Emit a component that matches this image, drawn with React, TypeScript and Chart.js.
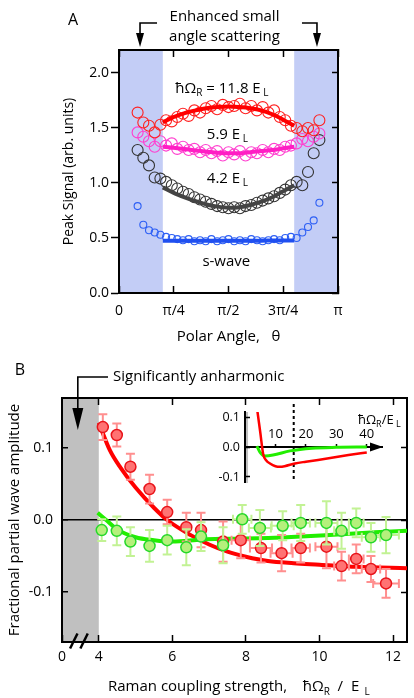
import React, { useEffect, useRef } from 'react';
import { Chart, registerables } from 'chart.js';

Chart.register(...registerables);

const FONT = "'Open Sans', 'DejaVu Sans', sans-serif";
Chart.defaults.font.family = FONT;
Chart.defaults.color = '#000';

// ---------- Panel A: peak signal vs polar angle (angle in units of π) ----------
const polarAngle = [0.085, 0.111, 0.137, 0.163, 0.189, 0.215, 0.241, 0.266, 0.292, 0.318, 0.344, 0.370, 0.396, 0.422, 0.448, 0.474, 0.500, 0.526, 0.552, 0.578, 0.604, 0.630, 0.656, 0.682, 0.708, 0.734, 0.759, 0.785, 0.811, 0.837, 0.863, 0.889, 0.915];
const signal118 = [1.64, 1.55, 1.52, 1.46, 1.53, 1.57, 1.56, 1.60, 1.63, 1.61, 1.66, 1.64, 1.68, 1.70, 1.67, 1.71, 1.69, 1.70, 1.72, 1.68, 1.70, 1.66, 1.69, 1.64, 1.66, 1.60, 1.57, 1.52, 1.50, 1.47, 1.50, 1.48, 1.57];
const signal59 = [1.46, 1.42, 1.38, 1.33, 1.38, 1.34, 1.36, 1.31, 1.33, 1.30, 1.31, 1.28, 1.30, 1.27, 1.29, 1.25, 1.28, 1.26, 1.29, 1.25, 1.28, 1.27, 1.30, 1.28, 1.31, 1.30, 1.33, 1.34, 1.36, 1.40, 1.38, 1.42, 1.45];
const signal42 = [1.30, 1.23, 1.16, 1.05, 1.04, 1.01, 0.98, 0.95, 0.92, 0.90, 0.87, 0.85, 0.83, 0.81, 0.79, 0.78, 0.77, 0.78, 0.77, 0.79, 0.80, 0.82, 0.84, 0.86, 0.88, 0.91, 0.94, 0.98, 1.01, 0.98, 1.10, 1.27, 1.39];
const signalSWave = [0.79, 0.62, 0.57, 0.55, 0.53, 0.51, 0.50, 0.49, 0.48, 0.49, 0.47, 0.48, 0.47, 0.49, 0.47, 0.48, 0.49, 0.47, 0.48, 0.47, 0.49, 0.48, 0.47, 0.48, 0.49, 0.48, 0.50, 0.51, 0.50, 0.55, 0.60, 0.66, 0.82];

const fitAngle = [0.2, 0.25, 0.3, 0.35, 0.4, 0.45, 0.5, 0.55, 0.6, 0.65, 0.7, 0.75, 0.8];
const fit118 = [1.55, 1.60, 1.635, 1.66, 1.68, 1.69, 1.695, 1.69, 1.68, 1.66, 1.625, 1.575, 1.52];
const fit59 = [1.33, 1.32, 1.31, 1.295, 1.285, 1.275, 1.27, 1.27, 1.28, 1.29, 1.30, 1.315, 1.33];
const fit42 = [0.96, 0.91, 0.87, 0.835, 0.805, 0.785, 0.775, 0.78, 0.80, 0.83, 0.87, 0.925, 0.98];
const fitSWave = [0.475, 0.474, 0.474, 0.475, 0.475, 0.475, 0.475, 0.475, 0.476, 0.476, 0.477, 0.477, 0.478];

const angleTicks = [0, 0.25, 0.5, 0.75, 1];
const angleTickLabels = ['0', 'π/4', 'π/2', '3π/4', 'π'];
const signalTicks = [0, 0.5, 1.0, 1.5, 2.0];
const smallAngleBands = [[0, 0.2], [0.8, 1]];

// ---------- Panel B: fractional partial wave amplitude vs Raman coupling ----------
const ramanRed = [4.11, 4.49, 4.86, 5.38, 5.86, 6.38, 6.78, 7.38, 7.86, 8.41, 8.97, 9.49, 10.19, 10.6, 11.0, 11.4, 11.81];
const ampRed = [0.129, 0.118, 0.074, 0.043, 0.011, -0.010, -0.014, -0.030, -0.028, -0.039, -0.046, -0.039, -0.037, -0.064, -0.054, -0.068, -0.088];
const errRed = [0.018, 0.016, 0.018, 0.020, 0.017, 0.020, 0.024, 0.028, 0.025, 0.020, 0.025, 0.020, 0.030, 0.020, 0.020, 0.018, 0.020];
const xErrRed = [0.03, 0.03, 0.05, 0.05, 0.05, 0.15, 0.15, 0.10, 0.25, 0.30, 0.30, 0.25, 0.30, 0.20, 0.20, 0.25, 0.35];

const ramanGreen = [4.08, 4.49, 4.86, 5.38, 5.86, 6.38, 6.78, 7.38, 7.90, 8.38, 9.00, 9.49, 10.19, 10.6, 11.0, 11.4, 11.81];
const ampGreen = [-0.014, -0.015, -0.030, -0.036, -0.028, -0.038, -0.023, -0.035, 0.001, -0.011, -0.008, -0.004, -0.004, -0.015, -0.004, -0.024, -0.021];
const errGreen = [0.015, 0.020, 0.020, 0.022, 0.020, 0.025, 0.020, 0.025, 0.020, 0.025, 0.020, 0.025, 0.030, 0.025, 0.020, 0.020, 0.025];
const xErrGreen = [0.03, 0.03, 0.05, 0.05, 0.05, 0.15, 0.15, 0.10, 0.25, 0.30, 0.30, 0.25, 0.30, 0.20, 0.20, 0.25, 0.35];

const redFitX = [4.0, 4.3, 4.6, 5.0, 5.5, 5.86, 6.5, 7.0, 7.5, 8.0, 8.6, 9.3, 10.0, 11.0, 12.4];
const redFitY = [0.135, 0.097, 0.072, 0.045, 0.017, 0.0, -0.021, -0.034, -0.044, -0.051, -0.057, -0.060, -0.062, -0.065, -0.067];
const greenFitX = [3.97, 4.2, 4.5, 5.0, 5.5, 6.0, 6.8, 7.5, 8.6, 9.5, 10.5, 11.5, 12.4];
const greenFitY = [0.010, 0.000, -0.013, -0.024, -0.028, -0.030, -0.027, -0.026, -0.025, -0.023, -0.020, -0.017, -0.015];

const ramanTicks = [3, 4, 6, 8, 10, 12];
const ramanTickLabels = ['0', '4', '6', '8', '10', '12'];
const ramanTopTicks = [4, 6, 8, 10, 12];
const ampTicks = [-0.1, 0, 0.1];
const anharmonicBand = [3, 4];

// ---------- Inset: calculated amplitudes over a wider coupling range ----------
const insetRedX = [4, 5, 6, 7, 8.2, 10, 11.5, 13, 16.4, 20, 28, 34, 40];
const insetRedY = [0.125, 0.05, -0.025, -0.045, -0.055, -0.064, -0.066, -0.064, -0.055, -0.049, -0.037, -0.027, -0.018];
const insetGreenX = [3.9, 4.9, 6.6, 9.2, 14.8, 22, 30, 40];
const insetGreenY = [0.003, -0.017, -0.030, -0.027, -0.013, -0.004, -0.001, 0.0];
const insetTicks = [10, 20, 30, 40];
const insetMarker = 16;

type Seg = { t: string; sub?: boolean };

function drawRich(ctx: CanvasRenderingContext2D, segs: Seg[], x: number, y: number, size: number, align: 'left' | 'center' = 'center') {
  const subSize = Math.round(size * 0.66);
  const widths = segs.map((s) => {
    ctx.font = `${s.sub ? subSize : size}px ${FONT}`;
    return ctx.measureText(s.t).width;
  });
  const total = widths.reduce((a, b) => a + b, 0);
  let cx = align === 'center' ? x - total / 2 : x;
  ctx.textAlign = 'left';
  ctx.textBaseline = 'middle';
  segs.forEach((s, i) => {
    ctx.font = `${s.sub ? subSize : size}px ${FONT}`;
    ctx.fillText(s.t, cx, s.sub ? y + size * 0.32 : y);
    cx += widths[i];
  });
}

function elbowArrow(ctx: CanvasRenderingContext2D, xStart: number, xCorner: number, yLine: number, yTip: number, headLen: number, headHalf: number) {
  ctx.beginPath();
  ctx.moveTo(xStart, yLine);
  ctx.lineTo(xCorner, yLine);
  ctx.lineTo(xCorner, yTip - headLen + 1);
  ctx.stroke();
  ctx.beginPath();
  ctx.moveTo(xCorner - headHalf, yTip - headLen);
  ctx.lineTo(xCorner + headHalf, yTip - headLen);
  ctx.lineTo(xCorner, yTip);
  ctx.closePath();
  ctx.fill();
}

const fixSize = (dim: 'width' | 'height', v: number) => (s: any) => {
  s[dim] = v;
  s.paddingLeft = s.paddingRight = s.paddingTop = s.paddingBottom = 0;
};
const setTicks = (values: number[]) => (s: any) => {
  s.ticks = values.map((v) => ({ value: v }));
};
const axisFont = (size: number) => ({ family: FONT, size });
const frame = { color: '#000', width: 2 };
const inward = (len: number) => ({ drawOnChartArea: false, tickLength: -len, tickColor: '#000', tickWidth: 1.5 });

const BAND_BLUE = '#c3cdf6';
const BAND_GREY = '#c0c0c0';

const panelAPlugin = {
  id: 'panelAAnnotations',
  beforeDraw(chart: any) {
    const { ctx, chartArea: a, scales: { x } } = chart;
    ctx.save();
    ctx.fillStyle = BAND_BLUE;
    smallAngleBands.forEach(([lo, hi]) => {
      const x0 = x.getPixelForValue(lo);
      const x1 = x.getPixelForValue(hi);
      ctx.fillRect(x0, a.top, x1 - x0, a.bottom - a.top);
    });
    ctx.restore();
  },
  afterDraw(chart: any) {
    const { ctx, chartArea: a, scales: { x, y } } = chart;
    ctx.save();
    ctx.fillStyle = '#000';
    ctx.strokeStyle = '#000';
    drawRich(ctx, [{ t: 'A' }], a.left - 46, a.top - 30, 16);
    const cx = (a.left + a.right) / 2 - 4;
    drawRich(ctx, [{ t: 'Enhanced small' }], cx, a.top - 33, 15);
    drawRich(ctx, [{ t: 'angle scattering' }], cx, a.top - 13, 15);
    ctx.lineWidth = 1.6;
    const lx = x.getPixelForValue(0.096);
    const rx = x.getPixelForValue(0.904);
    elbowArrow(ctx, lx + 17, lx, a.top - 27, a.top - 3, 14, 4);
    elbowArrow(ctx, rx - 15, rx, a.top - 27, a.top - 3, 14, 4);

    drawRich(ctx, [{ t: 'ħΩ' }, { t: 'R', sub: true }, { t: ' = 11.8 E' }, { t: ' L', sub: true }], x.getPixelForValue(0.47), y.getPixelForValue(1.86), 15);
    drawRich(ctx, [{ t: '5.9 E' }, { t: ' L', sub: true }], x.getPixelForValue(0.495), y.getPixelForValue(1.44), 15);
    drawRich(ctx, [{ t: '4.2 E' }, { t: ' L', sub: true }], x.getPixelForValue(0.495), y.getPixelForValue(1.04), 15);
    drawRich(ctx, [{ t: 's-wave' }], x.getPixelForValue(0.49), y.getPixelForValue(0.28), 15);
    ctx.restore();
  },
};

function configA(): any {
  const pts = (data: number[], color: string, r: number) => ({
    data: polarAngle.map((t, i) => ({ x: t, y: data[i] })),
    showLine: false,
    pointRadius: r,
    pointBorderWidth: 1.1,
    pointBorderColor: color,
    pointBackgroundColor: 'rgba(0,0,0,0)',
    order: 2,
  });
  const fit = (data: number[], color: string) => ({
    data: fitAngle.map((t, i) => ({ x: t, y: data[i] })),
    showLine: true,
    borderColor: color,
    borderWidth: 4,
    pointRadius: 0,
    cubicInterpolationMode: 'monotone',
    order: 1,
  });
  return {
    type: 'scatter',
    data: {
      datasets: [
        fit(fit118, '#ff0000'),
        fit(fit59, '#ff1ec4'),
        fit(fit42, '#444444'),
        fit(fitSWave, '#1f4ff0'),
        pts(signal118, '#ff2020', 5.5),
        pts(signal59, '#ff3fcf', 5.5),
        pts(signal42, '#333333', 5.5),
        pts(signalSWave, '#2d5ff5', 3.5),
      ],
    },
    options: {
      animation: false,
      responsive: false,
      events: [],
      layout: { padding: { top: 50, right: 76, bottom: 0, left: 0 } },
      plugins: { legend: { display: false }, tooltip: { enabled: false } },
      scales: {
        x: {
          type: 'linear', position: 'bottom', min: 0, max: 1,
          afterBuildTicks: setTicks(angleTicks), afterFit: fixSize('height', 57),
          ticks: { autoSkip: false, maxRotation: 0, padding: 16.6, font: axisFont(14), color: '#000', callback: (_v: any, i: number) => angleTickLabels[i] },
          grid: inward(7), border: frame,
          title: { display: true, text: 'Polar Angle,   θ', font: axisFont(15), color: '#000', padding: { top: 0, bottom: 4 } },
        },
        xTop: {
          type: 'linear', position: 'top', min: 0, max: 1,
          afterBuildTicks: setTicks(angleTicks), afterFit: fixSize('height', 0),
          ticks: { display: false }, grid: inward(7), border: frame,
        },
        y: {
          type: 'linear', position: 'left', min: 0, max: 2.209,
          afterBuildTicks: setTicks(signalTicks), afterFit: fixSize('width', 119),
          ticks: { padding: 2, font: axisFont(14), color: '#000', callback: (v: any) => Number(v).toFixed(1) },
          grid: { drawOnChartArea: false, tickLength: 8, tickColor: '#000', tickWidth: 1.5 }, border: frame,
          title: { display: true, text: 'Peak Signal (arb. units)', font: axisFont(14), color: '#000', padding: { top: 60.6, bottom: 0 } },
        },
        yRight: {
          type: 'linear', position: 'right', min: 0, max: 2.209,
          afterBuildTicks: setTicks(signalTicks), afterFit: fixSize('width', 0),
          ticks: { display: false }, grid: inward(6), border: frame,
        },
      },
    },
    plugins: [panelAPlugin],
  };
}

const panelBPlugin = {
  id: 'panelBAnnotations',
  beforeDraw(chart: any) {
    const { ctx, chartArea: a, scales: { x } } = chart;
    const x0 = x.getPixelForValue(anharmonicBand[0]);
    const x1 = x.getPixelForValue(anharmonicBand[1]);
    ctx.save();
    ctx.fillStyle = BAND_GREY;
    ctx.fillRect(x0, a.top, x1 - x0, a.bottom - a.top);
    ctx.restore();
  },
  beforeDatasetDraw(chart: any, args: any) {
    const ds: any = chart.data.datasets[args.index];
    if (!ds.errY) return;
    const { ctx, scales: { x, y } } = chart;
    ctx.save();
    ctx.strokeStyle = ds.errColor;
    ctx.lineWidth = 2;
    const cap = 4.5;
    ds.data.forEach((p: any, i: number) => {
      const px = x.getPixelForValue(p.x);
      const py = y.getPixelForValue(p.y);
      const yTop = y.getPixelForValue(p.y + ds.errY[i]);
      const yBot = y.getPixelForValue(p.y - ds.errY[i]);
      const xl = x.getPixelForValue(p.x - ds.errX[i]);
      const xr = x.getPixelForValue(p.x + ds.errX[i]);
      ctx.beginPath();
      ctx.moveTo(px, yTop); ctx.lineTo(px, yBot);
      ctx.moveTo(px - cap, yTop); ctx.lineTo(px + cap, yTop);
      ctx.moveTo(px - cap, yBot); ctx.lineTo(px + cap, yBot);
      if (xr - xl > 12) {
        ctx.moveTo(xl, py); ctx.lineTo(xr, py);
        ctx.moveTo(xl, py - cap); ctx.lineTo(xl, py + cap);
        ctx.moveTo(xr, py - cap); ctx.lineTo(xr, py + cap);
      }
      ctx.stroke();
    });
    ctx.restore();
  },
  afterDraw(chart: any) {
    const { ctx, chartArea: a, scales: { x } } = chart;
    ctx.save();
    ctx.fillStyle = '#000';
    ctx.strokeStyle = '#000';
    drawRich(ctx, [{ t: 'B' }], a.left - 42, a.top - 28, 16);
    drawRich(ctx, [{ t: 'Significantly anharmonic' }], a.left + 51, a.top - 21, 15, 'left');
    ctx.lineWidth = 1.6;
    elbowArrow(ctx, a.left + 46, x.getPixelForValue(3.43), a.top - 21, a.top + 32, 22, 5.5);

    // axis break marks
    ctx.lineWidth = 2.5;
    [3.32, 3.6].forEach((v) => {
      const bx = x.getPixelForValue(v);
      ctx.beginPath();
      ctx.moveTo(bx - 3.7, a.bottom + 6.5);
      ctx.lineTo(bx + 3.7, a.bottom - 8.5);
      ctx.stroke();
    });

    drawRich(
      ctx,
      [{ t: 'Raman coupling strength,    ħΩ' }, { t: 'R', sub: true }, { t: '  /  E' }, { t: '  L', sub: true }],
      a.left + 46, a.bottom + 45, 15, 'left',
    );
    ctx.restore();
  },
};

function configB(): any {
  const fitLine = (xs: number[], ys: number[], color: string, order: number) => ({
    data: xs.map((v, i) => ({ x: v, y: ys[i] })),
    showLine: true,
    borderColor: color,
    borderWidth: 4,
    pointRadius: 0,
    cubicInterpolationMode: 'monotone',
    order,
  });
  const points = (xs: number[], ys: number[], ey: number[], ex: number[], fill: string, edge: string, errColor: string, order: number) => ({
    data: xs.map((v, i) => ({ x: v, y: ys[i] })),
    showLine: false,
    pointRadius: 5.5,
    pointBorderWidth: 1.5,
    pointBackgroundColor: fill,
    pointBorderColor: edge,
    errY: ey,
    errX: ex,
    errColor,
    order,
  });
  return {
    type: 'scatter',
    data: {
      datasets: [
        fitLine(redFitX, redFitY, '#ff0000', 4),
        fitLine(greenFitX, greenFitY, '#22ee00', 3),
        points(ramanRed, ampRed, errRed, xErrRed, '#ff7373', '#e8141a', '#ff8f8f', 2),
        points(ramanGreen, ampGreen, errGreen, xErrGreen, '#b5f07c', '#25d82a', '#c2f294', 1),
      ],
    },
    options: {
      animation: false,
      responsive: false,
      events: [],
      layout: { padding: { top: 48, right: 5, bottom: 0, left: 0 } },
      plugins: { legend: { display: false }, tooltip: { enabled: false } },
      scales: {
        x: {
          type: 'linear', position: 'bottom', min: 3, max: 12.38,
          afterBuildTicks: setTicks(ramanTicks), afterFit: fixSize('height', 56),
          ticks: { autoSkip: false, maxRotation: 0, padding: 13.6, font: axisFont(14), color: '#000', callback: (_v: any, i: number) => ramanTickLabels[i] },
          grid: inward(7), border: frame,
        },
        xTop: {
          type: 'linear', position: 'top', min: 3, max: 12.38,
          afterBuildTicks: setTicks(ramanTopTicks), afterFit: fixSize('height', 0),
          ticks: { display: false }, grid: inward(7), border: frame,
        },
        y: {
          type: 'linear', position: 'left', min: -0.1694, max: 0.1694,
          afterBuildTicks: setTicks(ampTicks), afterFit: fixSize('width', 62),
          ticks: { padding: 15, font: axisFont(14), color: '#000', callback: (v: any) => Number(v).toFixed(1) },
          grid: {
            drawOnChartArea: true,
            color: (c: any) => (c.tick && c.tick.value === 0 ? '#000' : 'rgba(0,0,0,0)'),
            lineWidth: 1.5, tickLength: -6, tickColor: '#000', tickWidth: 1.5,
          },
          border: frame,
          title: { display: true, text: 'Fractional partial wave amplitude', font: axisFont(15), color: '#000', padding: { top: 6, bottom: 0 } },
        },
        yRight: {
          type: 'linear', position: 'right', min: -0.1694, max: 0.1694,
          afterBuildTicks: setTicks(ampTicks), afterFit: fixSize('width', 0),
          ticks: { display: false }, grid: inward(6), border: frame,
        },
      },
    },
    plugins: [panelBPlugin],
  };
}

const insetPlugin = {
  id: 'insetAnnotations',
  beforeDraw(chart: any) {
    const { ctx, chartArea: a, scales: { x } } = chart;
    const x1 = x.getPixelForValue(anharmonicBand[1] - anharmonicBand[0]);
    ctx.save();
    ctx.fillStyle = BAND_GREY;
    ctx.fillRect(a.left, a.top, x1 - a.left, a.bottom - a.top + 1);
    ctx.restore();
  },
  beforeDatasetsDraw(chart: any) {
    const { ctx, chartArea: a, scales: { x } } = chart;
    const mx = x.getPixelForValue(insetMarker);
    ctx.save();
    ctx.strokeStyle = '#000';
    ctx.lineWidth = 2;
    ctx.setLineDash([3, 3]);
    ctx.beginPath();
    ctx.moveTo(mx, a.top - 8);
    ctx.lineTo(mx, a.bottom);
    ctx.stroke();
    ctx.restore();
  },
  afterDraw(chart: any) {
    const { ctx, chartArea: a, scales: { x, y } } = chart;
    const y0 = y.getPixelForValue(0);
    ctx.save();
    ctx.fillStyle = '#000';
    ctx.beginPath();
    ctx.moveTo(a.right + 1, y0);
    ctx.lineTo(a.right - 12, y0 - 4.5);
    ctx.lineTo(a.right - 12, y0 + 4.5);
    ctx.closePath();
    ctx.fill();
    drawRich(ctx, [{ t: 'ħΩ' }, { t: 'R', sub: true }, { t: '/E' }, { t: ' L', sub: true }], x.getPixelForValue(37.1), y.getPixelForValue(0.09), 13, 'left');
    ctx.restore();
  },
};

function configInset(): any {
  const curve = (xs: number[], ys: number[], color: string, w: number) => ({
    data: xs.map((v, i) => ({ x: v, y: ys[i] })),
    showLine: true,
    borderColor: color,
    borderWidth: w,
    pointRadius: 0,
    cubicInterpolationMode: 'monotone',
  });
  return {
    type: 'scatter',
    data: {
      datasets: [curve(insetRedX, insetRedY, '#ff0000', 2.5), curve(insetGreenX, insetGreenY, '#22ee00', 3)],
    },
    options: {
      animation: false,
      responsive: false,
      events: [],
      layout: { padding: { top: 17, right: 23, bottom: 8, left: 0 } },
      plugins: { legend: { display: false }, tooltip: { enabled: false } },
      scales: {
        x: {
          type: 'linear', position: { y: 0 }, min: 0, max: 45,
          afterBuildTicks: setTicks(insetTicks), afterFit: (s: any) => { s.paddingLeft = s.paddingRight = 0; },
          ticks: { autoSkip: false, maxRotation: 0, padding: -17, font: axisFont(13), color: '#000' },
          grid: inward(4), border: frame,
        },
        y: {
          type: 'linear', position: 'left', min: -0.1167, max: 0.1167,
          afterBuildTicks: setTicks(ampTicks), afterFit: fixSize('width', 40),
          ticks: { padding: 10, font: axisFont(12.5), color: '#000', callback: (v: any) => Number(v).toFixed(1) },
          grid: inward(5), border: frame,
        },
      },
    },
    plugins: [insetPlugin],
  };
}

export default function App() {
  const aRef = useRef<HTMLCanvasElement>(null);
  const bRef = useRef<HTMLCanvasElement>(null);
  const insetRef = useRef<HTMLCanvasElement>(null);

  useEffect(() => {
    const charts = [
      new Chart(aRef.current as HTMLCanvasElement, configA()),
      new Chart(bRef.current as HTMLCanvasElement, configB()),
      new Chart(insetRef.current as HTMLCanvasElement, configInset()),
    ];
    return () => charts.forEach((c) => c.destroy());
  }, []);

  return (
    <div style={{ position: 'absolute', left: 0, top: 0, width: 414, height: 698, background: '#fff', overflow: 'hidden' }}>
      <canvas ref={aRef} width={414} height={350} style={{ position: 'absolute', left: 0, top: 0 }} />
      <canvas ref={bRef} width={414} height={348} style={{ position: 'absolute', left: 0, top: 350 }} />
      <canvas ref={insetRef} width={200} height={95} style={{ position: 'absolute', left: 205, top: 395 }} />
    </div>
  );
}
